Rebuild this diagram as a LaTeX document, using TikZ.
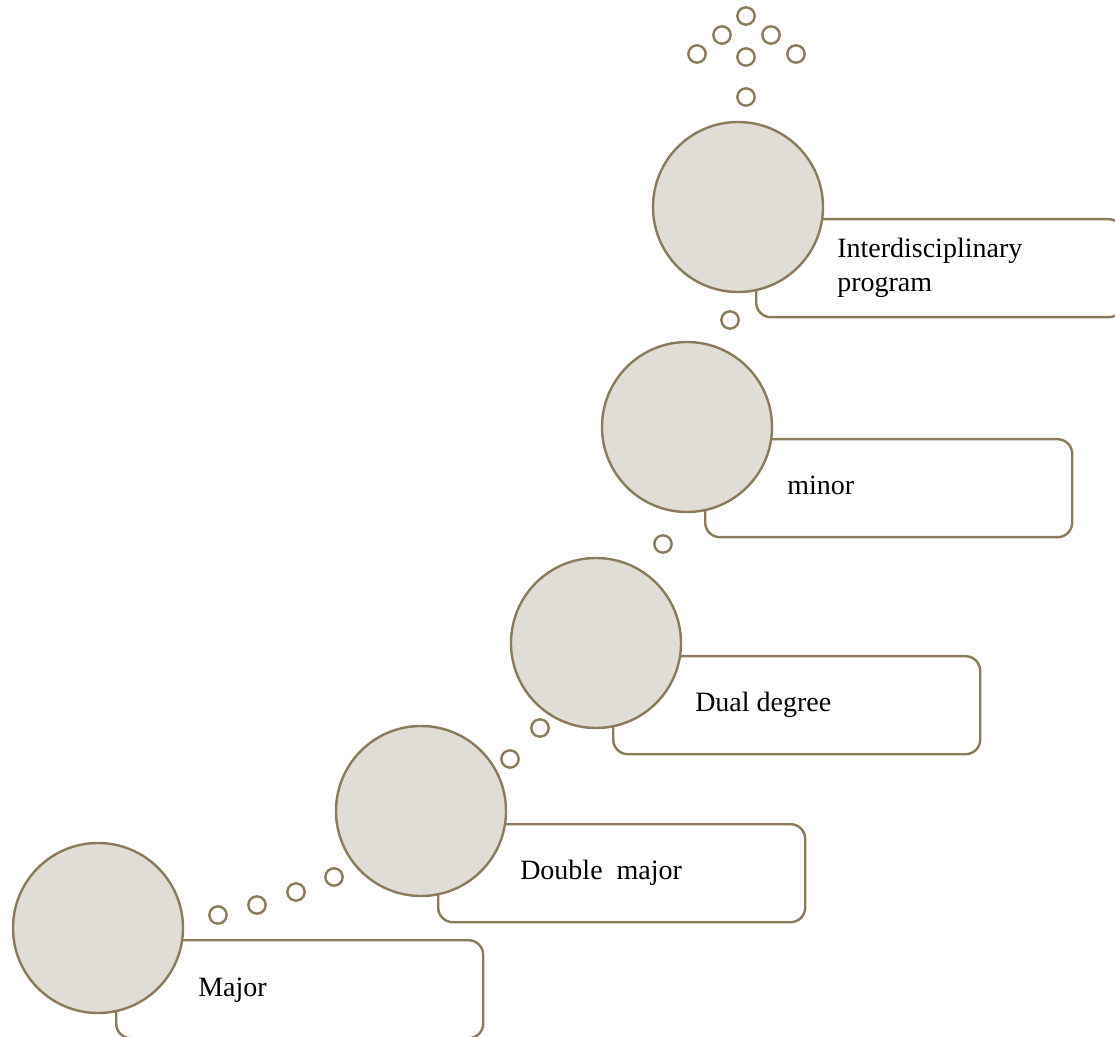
\documentclass[tikz,border=0pt]{standalone}
\usepackage{fontspec}
\setmainfont{Liberation Serif}
\definecolor{edge}{RGB}{140,123,90}
\definecolor{disc}{RGB}{224,220,214}
\begin{document}
\begin{tikzpicture}[x=0.75pt,y=-0.75pt,
  bigdisc/.style={circle,draw=edge,fill=disc,line width=1.8pt,minimum size=127.5pt,inner sep=0pt},
  labelbox/.style={rectangle,rounded corners=11pt,draw=edge,fill=white,line width=1.8pt,minimum width=275.25pt,minimum height=73.5pt,anchor=north west,inner sep=0pt},
  dot/.style={circle,draw=edge,fill=white,line width=1.8pt,minimum size=13pt,inner sep=0pt},
  lbl/.style={anchor=base west,inner sep=0pt,font=\fontsize{21}{25.5}\selectfont,align=left}]
\useasboundingbox (0,0) rectangle (1115,1037);
\begin{scope}
\clip (0,0) rectangle (1115,1037);
% boxes
\node[labelbox] (b1) at (115,939) {};
\node[labelbox] (b2) at (437,823) {};
\node[labelbox] (b3) at (612,655) {};
\node[labelbox] (b4) at (704,438) {};
\node[labelbox] (b5) at (755,218) {};
% circles
\node[bigdisc] (c1) at (98,928) {};
\node[bigdisc] (c2) at (421,811) {};
\node[bigdisc] (c3) at (596,643) {};
\node[bigdisc] (c4) at (687,427) {};
\node[bigdisc] (c5) at (738,207) {};
% labels
\node[lbl] (t1) at (198,996) {Major};
\node[lbl] (t2) at (520,879) {Double\ \ major};
\node[lbl] (t3) at (695,711) {Dual degree};
\node[lbl] (t4) at (787,495) {minor};
\node[lbl] (t5) at (837,292) {Interdisciplinary\\program};
% dots
\node[dot] (d1) at (218,915) {};
\node[dot] (d2) at (257,905) {};
\node[dot] (d3) at (296,892) {};
\node[dot] (d4) at (334,877) {};
\node[dot] (d5) at (510,759) {};
\node[dot] (d6) at (540,728) {};
\node[dot] (d7) at (663,544) {};
\node[dot] (d8) at (730,320) {};
\node[dot] (d9) at (746,97) {};
\node[dot] (d10) at (697,54) {};
\node[dot] (d11) at (746,57) {};
\node[dot] (d12) at (796,54) {};
\node[dot] (d13) at (722,35) {};
\node[dot] (d14) at (771,35) {};
\node[dot] (d15) at (746,16) {};
\end{scope}
\end{tikzpicture}
\end{document}
